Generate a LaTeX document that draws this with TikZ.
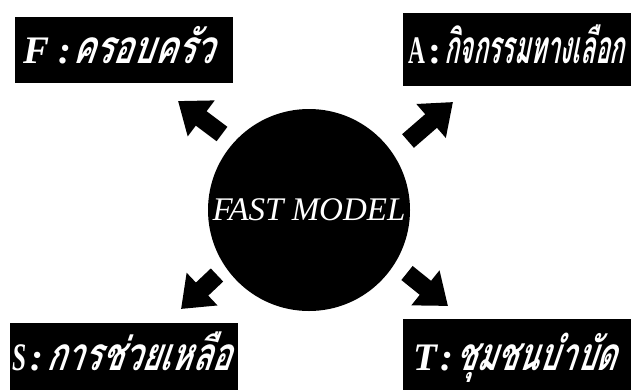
\documentclass[tikz,border=0pt]{standalone}
\usepackage{fontspec}
\setmainfont{Liberation Serif}
\newfontfamily\thaifont[Script=Thai,FakeSlant=0.2]{Loma}
\usetikzlibrary{arrows.meta}
\def\boxfont{\fontsize{39}{39}\selectfont\bfseries}
\newcommand\thaitext[2]{{\thaifont\fontsize{46}{46}\selectfont\addfontfeatures{FakeStretch=#1}#2}}

\begin{document}
\begin{tikzpicture}[x=1pt,y=-1pt,
    blockarrow/.style={line width=18pt,-{Triangle[width=43pt,length=29pt]}},
    boxtext/.style={text=white,anchor=base west,inner sep=0pt,text depth=0pt}]
		%%%%% START %%%%%
		\useasboundingbox (0,0) rectangle (631,389);
		
		% centre
		\node[circle,fill=black,text=white,minimum size=202pt,inner sep=0pt] (model) at (309,210) {\fontsize{33}{33}\selectfont\itshape FAST MODEL};
		
		% four boxes
		\fill[black] (15,17) rectangle (233,83);
		\node[boxtext] (fam) at (23,63) {\boxfont\itshape F\hspace{9pt}:\hspace{1pt}\thaitext{0.73}{ครอบครัว}};
		
		\fill[black] (403,13) rectangle (650,86);
		\node[boxtext] (alt) at (408,63) {\boxfont\scalebox{0.6}[1]{A}\hspace{3pt}:\hspace{3pt}\thaitext{0.53}{กิจกรรมทางเลือก}};
		
		\fill[black] (10,323) rectangle (238,400);
		\node[boxtext] (aid) at (12,370) {\boxfont\itshape\scalebox{0.65}[1]{S}\hspace{4pt}:\hspace{3pt}\thaitext{0.7}{การช่วยเหลือ}};
		
		\fill[black] (403,319) rectangle (650,400);
		\node[boxtext] (tc) at (413,370) {\boxfont\itshape T\hspace{3pt}:\hspace{2pt}\thaitext{0.675}{ชุมชนบำบัด}};
		
		% arrows
		\coordinate (famTail) at (222,134);
		\coordinate (famTip) at (178,101);
		\coordinate (altTail) at (408,141);
		\coordinate (altTip) at (453,102);
		\coordinate (aidTail) at (217,275);
		\coordinate (aidTip) at (181,309);
		\coordinate (tcTail) at (407,273);
		\coordinate (tcTip) at (448,306);
		\draw[blockarrow] (famTail) -- (famTip);
		\draw[blockarrow] (altTail) -- (altTip);
		\draw[blockarrow] (aidTail) -- (aidTip);
		\draw[blockarrow] (tcTail) -- (tcTip);
		
		%%%%% END %%%%%
	\end{tikzpicture}
\end{document}
